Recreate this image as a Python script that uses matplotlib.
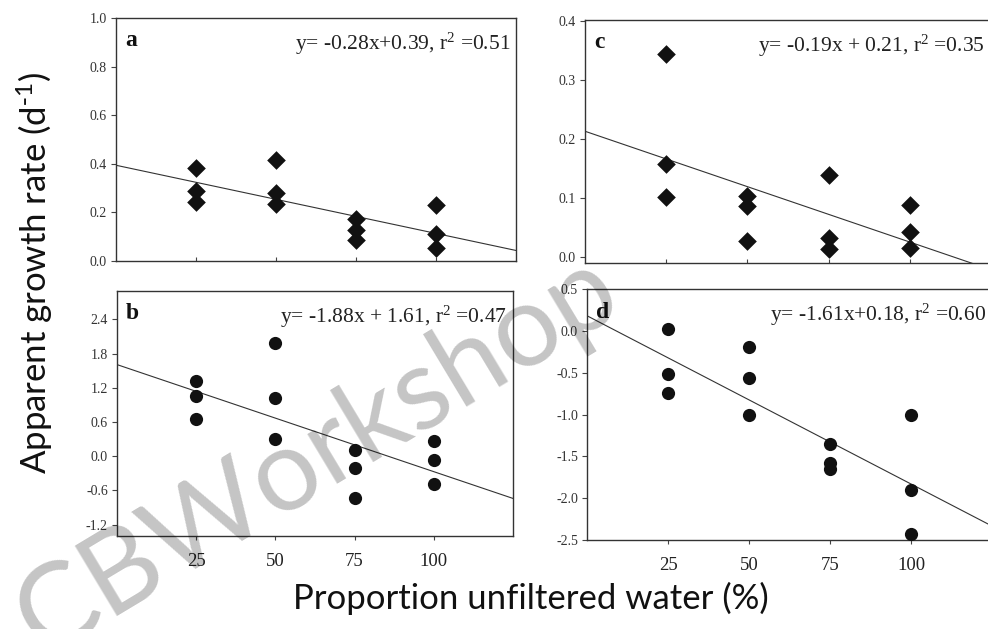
import numpy as np
import matplotlib
matplotlib.use("Agg")
import matplotlib.pyplot as plt

plt.rcParams['font.family'] = ['Liberation Serif', 'DejaVu Serif']
plt.rcParams['mathtext.default'] = 'regular'

# proportion of unfiltered water, three replicates per level
levels = [25, 50, 75, 100]
x_rep = np.repeat(levels, 3)

# apparent growth rates, diamonds (top row) and circles (bottom row)
rate_a = [0.384, 0.289, 0.243, 0.415, 0.278, 0.234, 0.172, 0.129, 0.085, 0.230, 0.110, 0.055]
rate_b = [1.32, 1.05, 0.654, 1.99, 1.02, 0.30, 0.105, -0.205, -0.736, 0.263, -0.07, -0.485]
rate_c = [0.344, 0.157, 0.102, 0.104, 0.086, 0.027, 0.138, 0.0315, 0.013, 0.088, 0.042, 0.016]
rate_d = [0.024, -0.52, -0.744, -0.19, -0.568, -1.01, -1.35, -1.58, -1.65, -1.00, -1.90, -2.43]

eq_a = "y= -0.28x+0.39, r$^2$ =0.51"
eq_b = "y= -1.88x + 1.61, r$^2$ =0.47"
eq_c = "y= -0.19x + 0.21, r$^2$ =0.35"
eq_d = "y= -1.61x+0.18, r$^2$ =0.60"

yticks_a = [0.0, 0.2, 0.4, 0.6, 0.8, 1.0]
yticks_b = [-1.2, -0.6, 0.0, 0.6, 1.2, 1.8, 2.4]
yticks_c = [0.0, 0.1, 0.2, 0.3, 0.4]
yticks_d = [-2.5, -2.0, -1.5, -1.0, -0.5, 0.0, 0.5]

W, H = 988, 629
fig = plt.figure(figsize=(W / 100, H / 100), dpi=100)


def box(l, t, r, b):
    return [l / W, 1 - b / H, (r - l) / W, (b - t) / H]


def panel(rect, y, eq, letter, marker, ms, yticks, ylim, bottom_row):
    ax = fig.add_axes(rect)
    ax.scatter(x_rep, y, marker=marker, s=ms ** 2, color='#111111', zorder=3, linewidths=0)
    # least squares line, x as a fraction of unfiltered water
    slope, icpt = np.polyfit(x_rep / 100, y, 1)
    xx = np.array([0, 125])
    ax.plot(xx, slope * xx / 100 + icpt, color='#333333', lw=0.8, zorder=2)
    ax.set_xlim(0, 125)
    ax.set_ylim(*ylim)
    ax.set_xticks(levels)
    ax.set_yticks(yticks)
    ax.set_yticklabels(['%.1f' % v for v in yticks])
    ax.tick_params(axis='y', direction='out', length=3.5, width=0.8, labelsize=10,
                   labelcolor='#333333', pad=3, color='#444444')
    if bottom_row:
        ax.tick_params(axis='x', direction='out', length=3, width=0.8, labelsize=13.5,
                       labelcolor='#222222', pad=9, color='#444444')
    else:
        ax.tick_params(axis='x', direction='in', length=3, width=0.8, labelbottom=False,
                       color='#444444')
    for s in ax.spines.values():
        s.set_color('#333333')
        s.set_linewidth(1.0)
    ax.text(0.022, 0.95, letter, transform=ax.transAxes, fontsize=17, fontweight='bold',
            ha='left', va='top', color='#111111')
    ax.text(0.985, 0.895, eq, transform=ax.transAxes, fontsize=15.5, ha='right',
            va='center', color='#222222')
    return ax


panel(box(116, 18, 516, 261), rate_a, eq_a, 'a', 'D', 9.5, yticks_a, (0, 1.0), False)
panel(box(117, 291, 513, 536), rate_b, eq_b, 'b', 'o', 9.5, yticks_b, (-1.4, 2.9), True)
panel(box(585, 20, 991, 263), rate_c, eq_c, 'c', 'D', 9.5, yticks_c, (-0.01, 0.401), False)
panel(box(587, 289, 992, 540), rate_d, eq_d, 'd', 'o', 9.5, yticks_d, (-2.5, 0.5), True)

fig.text(35 / W, 1 - 273 / H, r"Apparent growth rate (d$^{\text{-}1}$)", rotation=90,
         ha='center', va='center', fontsize=25, family='Lato', color='#111111')
fig.text(531 / W, 1 - 598 / H, "Proportion unfiltered water (%)",
         ha='center', va='center', fontsize=25, family='Lato', color='#111111')

# faint overlay
fig.text(318 / W, 1 - 455 / H, "CBWorkshop", rotation=31, rotation_mode='anchor',
         ha='center', va='center', fontsize=83, family='Lato', color='black', alpha=0.23)

fig.savefig("out.png", dpi=100)
